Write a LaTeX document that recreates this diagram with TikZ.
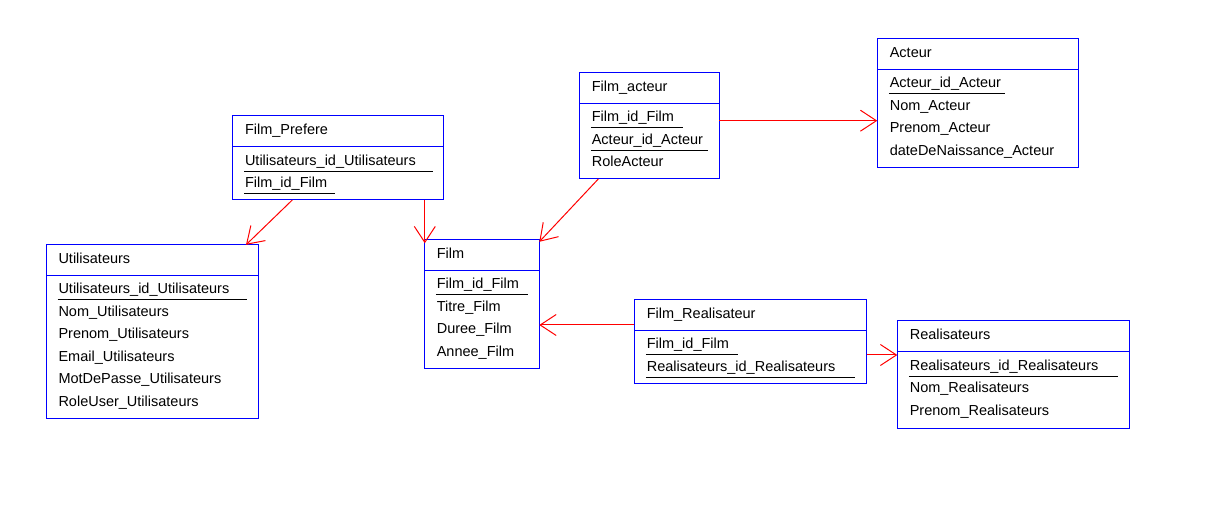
\documentclass[tikz,border=0pt]{standalone}
\usepackage{fontspec}
\setmainfont{Liberation Sans}
\usetikzlibrary{arrows.meta,calc}
\definecolor{entblue}{RGB}{0,0,255}
\definecolor{relred}{RGB}{255,0,0}
\tikzset{
  entbox/.style={draw=entblue, line width=1pt, rectangle, inner sep=0pt, outer sep=0pt, fill=white},
  entline/.style={draw=entblue, line width=1pt},
  lbl/.style={inner sep=0pt, outer sep=0pt, anchor=base west, font=\fontsize{14.5}{17}\selectfont, text=black},
  keyline/.style={draw=black, line width=1pt},
  conn/.style={draw=relred, line width=1pt, -{Straight Barb[length=16pt,width=21pt,line width=1pt]}}
}
\newcommand{\ent}[6]{%
  \node[entbox, minimum width={#4-#2}, minimum height={#5-#3}, anchor=north west] (#1) at (#2,#3) {};
  \draw[entline] ($(#1.north west)+(0,31)$) -- ($(#1.north east)+(0,31)$);
  \node[lbl] (#1-t) at ($(#1.north west)+(12.5,19)$) {#6};
}
\newcommand{\att}[3]{%
  \node[lbl] (#1-#2) at ($(#1.north west)+(12.5,{49.5+22.5*#2})$) {#3};
}
\newcommand{\pk}[3]{%
  \draw[keyline] ($(#1.north west)+(11.5,{55.5+22.5*#2})$) -- ++(#3,0);
}
\begin{document}
\begin{tikzpicture}[x=1pt,y=-1pt]
\fill[white] (0,0) rectangle (1213,518);
\useasboundingbox (0,0) rectangle (1213,518);

% Film_Prefere
\ent{fp}{232.5}{115.7}{443.3}{200}{Film\_Prefere}
\att{fp}{0}{Utilisateurs\_id\_Utilisateurs}
\att{fp}{1}{Film\_id\_Film}
\pk{fp}{0}{188.7}
\pk{fp}{1}{91}

% Utilisateurs
\ent{ut}{46}{244.3}{258.3}{419}{Utilisateurs}
\att{ut}{0}{Utilisateurs\_id\_Utilisateurs}
\att{ut}{1}{Nom\_Utilisateurs}
\att{ut}{2}{Prenom\_Utilisateurs}
\att{ut}{3}{Email\_Utilisateurs}
\att{ut}{4}{MotDePasse\_Utilisateurs}
\att{ut}{5}{RoleUser\_Utilisateurs}
\pk{ut}{0}{189.2}

% Film
\ent{fi}{424.3}{239.3}{539.3}{369}{Film}
\att{fi}{0}{Film\_id\_Film}
\att{fi}{1}{Titre\_Film}
\att{fi}{2}{Duree\_Film}
\att{fi}{3}{Annee\_Film}
\pk{fi}{0}{91.9}

% Film_acteur
\ent{fa}{579.3}{72.3}{719}{179}{Film\_acteur}
\att{fa}{0}{Film\_id\_Film}
\att{fa}{1}{Acteur\_id\_Acteur}
\att{fa}{2}{RoleActeur}
\pk{fa}{0}{91.9}
\pk{fa}{1}{116.9}

% Acteur
\ent{ac}{877.3}{38.3}{1078.3}{167.3}{Acteur}
\att{ac}{0}{Acteur\_id\_Acteur}
\att{ac}{1}{Nom\_Acteur}
\att{ac}{2}{Prenom\_Acteur}
\att{ac}{3}{dateDeNaissance\_Acteur}
\pk{ac}{0}{116.2}

% Film_Realisateur
\ent{fr}{634.3}{299.3}{866.7}{384}{Film\_Realisateur}
\att{fr}{0}{Film\_id\_Film}
\att{fr}{1}{Realisateurs\_id\_Realisateurs}
\pk{fr}{0}{91.9}
\pk{fr}{1}{209.2}

% Realisateurs
\ent{re}{897.3}{320.7}{1129}{428.3}{Realisateurs}
\att{re}{0}{Realisateurs\_id\_Realisateurs}
\att{re}{1}{Nom\_Realisateurs}
\att{re}{2}{Prenom\_Realisateurs}
\pk{re}{0}{208.9}

% Connectors
\draw[conn] ($(fp.south west)+(59.8,0)$) -- ($(ut.north east)+(-12.3,0.5)$);
\draw[conn] ($(fp.south west)+(192.3,0)$) -- ($(fi.north west)+(0.5,4)$);
\draw[conn] ($(fa.south west)+(19,0)$) -- ($(fi.north east)+(0,2.5)$);
\draw[conn] ($(fa.north east)+(0,48.4)$) -- ($(ac.north west)+(0,82.4)$);
\draw[conn] ($(fr.north west)+(0,25.7)$) -- ($(fi.north east)+(0,85.7)$);
\draw[conn] ($(fr.north east)+(0,55.7)$) -- ($(re.north west)+(0,34.3)$);
\end{tikzpicture}
\end{document}
